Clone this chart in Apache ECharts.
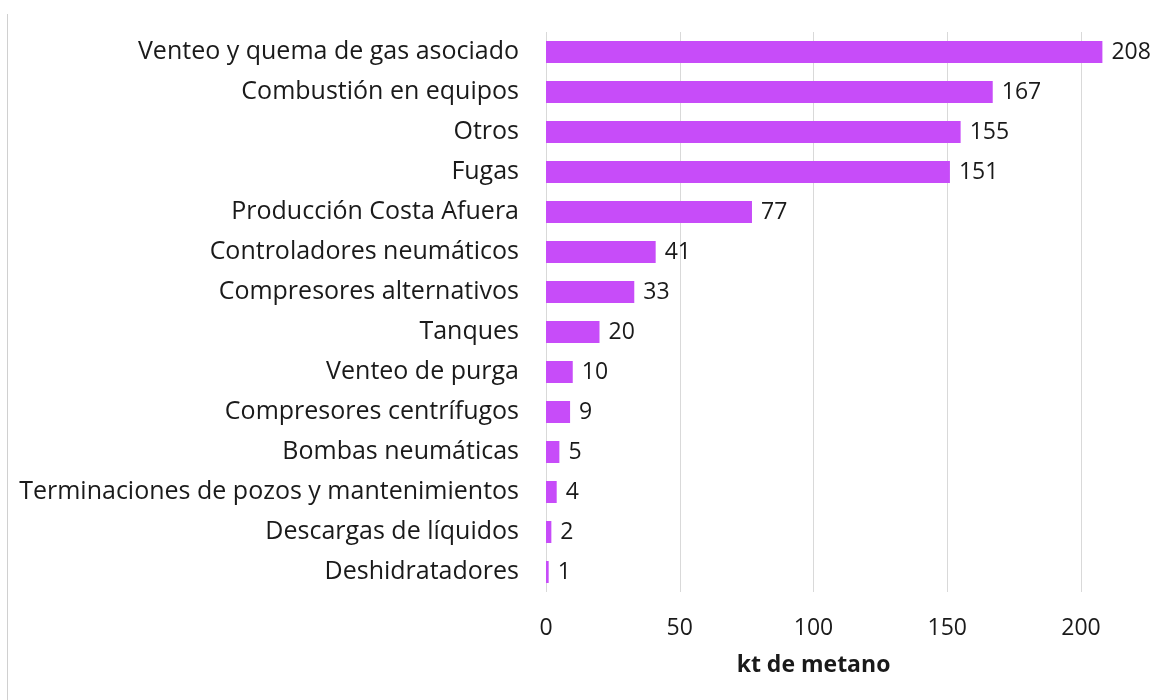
<!DOCTYPE html>
<html>
<head>
<meta charset="utf-8">
<script src="https://cdn.jsdelivr.net/npm/echarts@6/dist/echarts.min.js"></script>
<style>
  html, body { margin: 0; padding: 0; background: #fff; }
  #chart { width: 1159px; height: 700px; }
</style>
</head>
<body>
<div id="chart"></div>
<script>
// categories from top to bottom as in the picture
var categories = [
  "Venteo y quema de gas asociado",
  "Combustión en equipos",
  "Otros",
  "Fugas",
  "Producción Costa Afuera",
  "Controladores neumáticos",
  "Compresores alternativos",
  "Tanques",
  "Venteo de purga",
  "Compresores centrífugos",
  "Bombas neumáticas",
  "Terminaciones de pozos y mantenimientos",
  "Descargas de líquidos",
  "Deshidratadores"
];
var values = [208, 167, 155, 151, 77, 41, 33, 20, 10, 9, 5, 4, 2, 1];
var axisTicks = [0, 50, 100, 150, 200];
var axisTitle = "kt de metano";

var chart = echarts.init(document.getElementById("chart"));
var font = "'Open Sans', sans-serif";

var option = {
  animation: false,
  textStyle: { fontFamily: font },
  // thin border on the left edge of the picture
  graphic: [{
    type: "line",
    shape: { x1: 7.5, y1: 14, x2: 7.5, y2: 700 },
    style: { stroke: "#d0d0d0", lineWidth: 1 }
  }],
  grid: { left: 546, right: 78, top: 32, bottom: 108 },
  xAxis: {
    type: "value",
    min: axisTicks[0],
    max: axisTicks[axisTicks.length - 1],
    interval: 50,
    axisLine: { show: false },
    axisTick: { show: false },
    splitLine: { show: true, lineStyle: { color: "#d9d9d9", width: 1 } },
    axisLabel: { color: "#1a1a1a", fontSize: 23, margin: 25, fontFamily: font },
    name: axisTitle,
    nameLocation: "middle",
    nameGap: 62,
    nameTextStyle: { color: "#1a1a1a", fontSize: 23, fontWeight: "bold", fontFamily: font }
  },
  yAxis: {
    type: "category",
    data: categories,
    inverse: true,
    axisLine: { show: false },
    axisTick: { show: false },
    axisLabel: { color: "#1a1a1a", fontSize: 25, margin: 27, fontFamily: font }
  },
  series: [{
    type: "bar",
    data: values,
    barWidth: 22,
    clip: false,
    itemStyle: { color: "#c74cf9" },
    label: {
      show: true,
      position: "right",
      distance: 9,
      color: "#1a1a1a",
      fontSize: 23,
      fontFamily: font
    }
  }]
};

chart.setOption(option);
</script>
</body>
</html>
